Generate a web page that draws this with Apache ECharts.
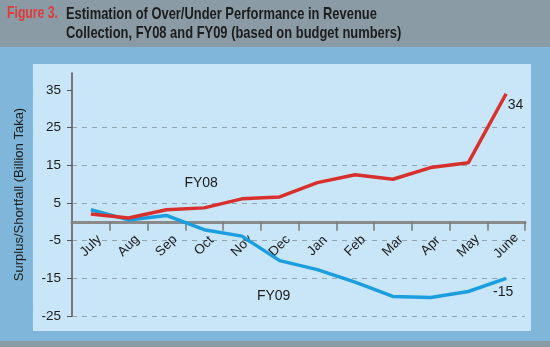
<!DOCTYPE html>
<html><head><meta charset="utf-8">
<script src="https://cdn.jsdelivr.net/npm/echarts@6/dist/echarts.min.js"></script>
<style>html,body{margin:0;padding:0;background:#7fb6d9}#c{width:550px;height:347px}</style>
</head><body><div id="c"></div>
<script>
var months = ['July','Aug','Sep','Oct','Nov','Dec','Jan','Feb','Mar','Apr','May','June'];
var fy08 = [2.1, 1.0, 3.2, 3.7, 6.1, 6.6, 10.4, 12.5, 11.3, 14.4, 15.7, 34];
var fy09 = [3.2, 0.5, 1.7, -2.1, -3.8, -10.3, -12.7, -16.0, -19.8, -20.1, -18.5, -15];
var yTicks = [-25, -15, -5, 5, 15, 25, 35];

var chart = echarts.init(document.getElementById('c'), null, {renderer:'canvas'});
var font2 = 'Liberation Sans, Arial, sans-serif';

function mk(arr, nameIdx, nameLabel, endLabel){
  return arr.map(function(v,i){
    if(i===arr.length-1) return {value:v, label:endLabel};
    if(i===nameIdx) return {value:v, label:nameLabel};
    return v;
  });
}

var option = {
  animation:false,
  backgroundColor:'#7fb6d9',
  graphic:[
    {type:'rect', shape:{x:0,y:0,width:550,height:47}, style:{fill:'#8a9ba6'}, z:-10},
    {type:'rect', shape:{x:0,y:341,width:550,height:6}, style:{fill:'#8a9ba6'}, z:-10},
    {type:'rect', shape:{x:33,y:64,width:498,height:267}, style:{fill:'#c8e6f8'}, z:-10},
    {type:'text', x:7, y:5, scaleX:0.72, style:{text:'Figure 3.', fill:'#e03a3a', font:'bold 17px '+font2}},
    {type:'text', x:66, y:5, scaleX:0.76, style:{text:'Estimation of Over/Under Performance in Revenue\nCollection, FY08 and FY09 (based on budget numbers)', fill:'#1c1c1c', font:'bold 17px '+font2, lineHeight:19}}
  ],
  grid:{left:72, right:25, top:73, bottom:31, containLabel:false, outerBoundsMode:'none'},
  xAxis:{
    type:'category', data:months, boundaryGap:true,
    position:'bottom', offset:0,
    axisLine:{onZero:false, lineStyle:{color:'#8a8a8a', width:3}},
    axisTick:{show:true, alignWithLabel:false, inside:false, length:9, lineStyle:{color:'#7a7a7a', width:1.5}},
    axisLabel:{rotate:45, align:'center', verticalAlign:'middle', color:'#1c1c1c', fontSize:13.5, fontFamily:font2, margin:24},
    splitLine:{show:false}
  },
  yAxis:{
    type:'value', min:-25, max:39.5, interval:10,
    name:'Surplus/Shortfall (Billion Taka)', nameLocation:'middle', nameGap:46,
    nameTextStyle:{color:'#1c1c1c', fontSize:13, fontFamily:font2},
    axisLine:{show:true, onZero:false, lineStyle:{color:'#555', width:1.5}},
    axisTick:{show:true, length:5, lineStyle:{color:'#555'}, customValues:yTicks},
    axisLabel:{color:'#1c1c1c', fontSize:13.5, fontFamily:font2, margin:11, customValues:yTicks, formatter:function(v){return String(v);}},
    splitLine:{show:true, showMinLine:true, showMaxLine:false, lineStyle:{color:'#8fa3b0', type:[5,5], width:1}}
  },
  series:[
    {name:'FY08', type:'line', data:mk(fy08,3,
        {show:true, position:'top', distance:17, offset:[-3,0], formatter:'FY08', color:'#1c1c1c', fontSize:14, fontFamily:font2},
        {show:true, position:'right', distance:3, offset:[-2,11], formatter:'{c}', color:'#1c1c1c', fontSize:14, fontFamily:font2}),
     symbol:'circle', symbolSize:1, showSymbol:true, itemStyle:{color:'rgba(0,0,0,0)', borderWidth:0}, lineStyle:{color:'#d8302c', width:3.5}, z:3},
    {name:'FY09', type:'line', data:mk(fy09,5,
        {show:true, position:'bottom', distance:28, offset:[-6,0], formatter:'FY09', color:'#1c1c1c', fontSize:14, fontFamily:font2},
        {show:true, position:'bottom', distance:5, offset:[-3,1], formatter:'{c}', color:'#1c1c1c', fontSize:14, fontFamily:font2}),
     symbol:'circle', symbolSize:1, showSymbol:true, itemStyle:{color:'rgba(0,0,0,0)', borderWidth:0}, lineStyle:{color:'#1a9ee0', width:3.5}, z:2}
  ]
};
chart.setOption(option);
// move x axis (line, ticks, labels) up to the zero value
var y0 = chart.convertToPixel({yAxisIndex:0}, 0);
var gridBottom = 347 - 31;
chart.setOption({xAxis:{offset: -(gridBottom - y0)}});
</script></body></html>
